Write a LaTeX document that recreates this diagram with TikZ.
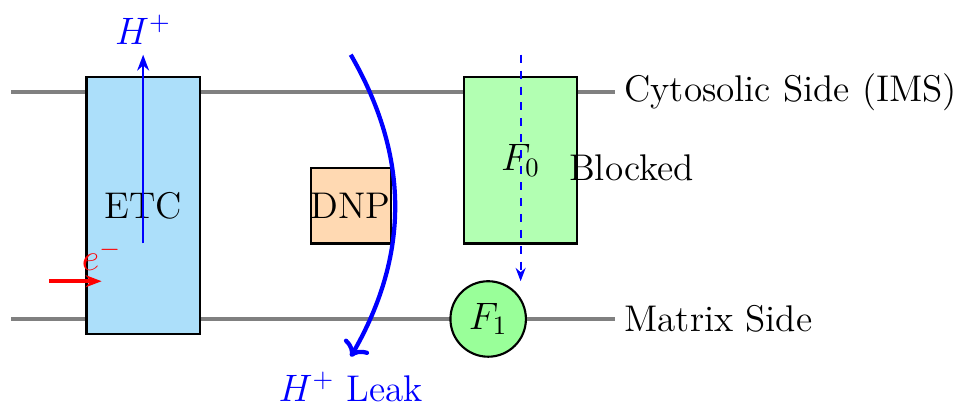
\documentclass[tikz,border=0pt]{standalone}
\IfFileExists{XCharter.sty}{\usepackage{XCharter}}{\IfFileExists{charter.sty}{\usepackage{charter}}{}}
\usetikzlibrary{arrows.meta}
\definecolor{etcblue}{RGB}{172,223,250}
\begin{document}
\begin{tikzpicture}[
  font=\fontsize{14}{17}\selectfont,
  membrane/.style={gray, line width=1.5pt},
  protein/.style={draw, thick, minimum width=1.5cm},
]
\useasboundingbox (-0.146,-1.179) rectangle (12.596,4.225);
% membranes
\coordinate (tl) at (0,3);
\coordinate (tr) at (8,3);
\coordinate (bl) at (0,0);
\coordinate (br) at (8,0);
\draw[membrane] (tl) -- (tr);
\draw[membrane] (bl) -- (br);
\node[right] (cyto) at (tr) {Cytosolic Side (IMS)};
\node[right] (matrix) at (br) {Matrix Side};
% ETC
\node[protein, fill=etcblue, minimum height=3.4cm] (etc) at (1.75,1.5) {ETC};
% DNP
\node[draw, thick, fill=orange!30, minimum width=1cm, minimum height=1cm, inner sep=0pt] (dnp) at (4.5,1.5) {DNP};
% F0 and F1
\node[protein, fill=green!30, minimum height=2.2cm] (f0) at (6.75,2.1) {$F_0$};
\node[draw, thick, circle, fill=green!40, minimum size=1cm, inner sep=0pt] (f1) at (6.32,0) {$F_1$};
\node (blocked) at (8.22,2.0) {Blocked};
% H+ pumping
\coordinate (hs) at (1.75,1);
\coordinate (he) at (1.75,3.5);
\draw[blue, thick, -{Stealth[length=6pt]}] (hs) -- (he) node[above] (hplus) {$H^+$};
% electrons
\coordinate (es) at (0.5,0.5);
\coordinate (ee) at (1.2,0.5);
\draw[red, line width=1.6pt, -{Stealth[length=6pt]}] (es) -- (ee) node[above] (elabel) {$e^-$};
% leak
\coordinate (ls) at (4.5,3.5);
\coordinate (le) at (4.5,-0.5);
\draw[blue, line width=1.6pt, ->] (ls) to[bend left=30] (le);
\node[blue] (leak) at (4.5,-0.9) {$H^+$ Leak};
% blocked flow
\coordinate (ds) at (6.75,3.5);
\coordinate (de) at (6.75,0.5);
\draw[blue, thick, dashed, -{Stealth[length=5pt]}] (ds) -- (de);
\end{tikzpicture}
\end{document}
